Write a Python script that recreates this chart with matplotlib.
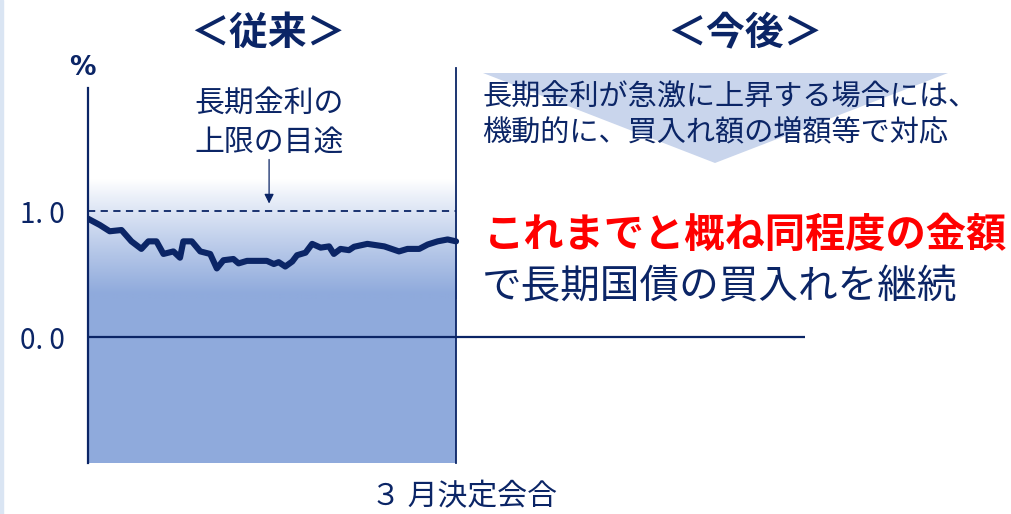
import numpy as np
import matplotlib.pyplot as plt
from matplotlib.colors import LinearSegmentedColormap
from matplotlib.patches import Polygon, Rectangle

plt.rcParams['font.family'] = ['Noto Sans CJK JP', 'DejaVu Sans']

NAVY = '#0B2566'
FILL = '#8FAADC'
RED = '#FF0000'

# 長期金利（％）— 3月決定会合までの推移（0〜100 の時間軸）
t_obs = [0, 3.2, 5.9, 9.1, 11.8, 14.5, 16.4, 18.6, 20.5, 23.2, 25, 25.9, 28.2,
         30.5, 33.2, 35, 36.8, 39.5, 40.9, 43.2, 48.6, 50.5, 51.8, 53.6, 55.5,
         56.8, 59.1, 60.9, 63.2, 65.5, 66.8, 68.6, 70.9, 72.3, 75.9, 80.5,
         84.5, 86.8, 90, 92.3, 95, 97.7, 100]
yield_pct = [0.94, 0.89, 0.84, 0.85, 0.76, 0.70, 0.76, 0.76, 0.66, 0.68, 0.63,
             0.76, 0.76, 0.68, 0.66, 0.545, 0.61, 0.62, 0.585, 0.605, 0.605,
             0.58, 0.595, 0.56, 0.60, 0.65, 0.67, 0.74, 0.71, 0.72, 0.66,
             0.70, 0.69, 0.717, 0.74, 0.72, 0.68, 0.70, 0.70, 0.735, 0.76,
             0.775, 0.76]
cap_level = 1.0
yticks = [0.0, 1.0]
ytick_labels = ['0. 0', '1. 0']
t_meeting = 100
t_end = 194.8

fig = plt.figure(figsize=(10.11, 5.14), dpi=100)
fig.patches.append(Rectangle((0, 0), 0.003, 1, transform=fig.transFigure,
                             color='#DAE5F3', zorder=0))
ax = fig.add_axes([88 / 1011, 51 / 514, 717 / 1011, 403 / 514])
ax.set_xlim(0, t_end)
ax.set_ylim(-1.0, 2.2)
for s in ax.spines.values():
    s.set_visible(False)
ax.set_xticks([])
ax.set_yticks(yticks)
ax.set_yticklabels(ytick_labels, fontsize=20, color=NAVY)
ax.tick_params(axis='y', length=0, pad=17)

# グラデーション付きの背景
cmap = LinearSegmentedColormap.from_list('g', ['#FFFFFF', FILL])
grad = np.linspace(0, 1, 200).reshape(-1, 1)
grad = np.clip(0.04 + grad, 0, 1) ** 0.9
ax.imshow(grad, aspect='auto', cmap=cmap, extent=[0, t_meeting, 0.3, 1.25],
          origin='upper', zorder=1)
ax.fill_between([0, t_meeting], -1.0, 0.3, color=FILL, lw=0, zorder=1)

# 軸・線
ax.plot([0, 0], [-1.0, 1.98], color=NAVY, lw=1.6, zorder=4, clip_on=False)
ax.plot([t_meeting, t_meeting], [-1.0, 2.14], color=NAVY, lw=1.3, zorder=4,
        clip_on=False)
ax.axhline(0, color=NAVY, lw=1.6, zorder=4)
ax.plot([0, t_meeting], [cap_level, cap_level], color=NAVY, lw=1.3,
        ls=(0, (4, 3)), zorder=4)
ax.plot(t_obs, yield_pct, color=NAVY, lw=4.4, zorder=5,
        solid_joinstyle='round', solid_capstyle='round')

ax.annotate('', xy=(49.2, 1.06), xytext=(49.2, 1.41),
            arrowprops=dict(arrowstyle='-|>', color=NAVY, lw=0.9,
                            mutation_scale=14, shrinkA=0, shrinkB=0))

ax.text(-1.5, 2.14, '%', fontsize=19, color=NAVY, ha='center', va='center',
        fontweight='bold', family=['DejaVu Sans'])
ax.text(49.2, 1.70, '長期金利の\n上限の目途', fontsize=21.5, color=NAVY,
        ha='center', va='center', linespacing=1.35)

fig.text(268 / 1011, 1 - 33 / 514, '＜従来＞', fontsize=28, fontweight='bold',
         color=NAVY, ha='center', va='center')
fig.text(745 / 1011, 1 - 33 / 514, '＜今後＞', fontsize=28, fontweight='bold',
         color=NAVY, ha='center', va='center')

tri = Polygon([[483 / 1011, 1 - 73 / 514], [948 / 1011, 1 - 73 / 514],
               [715 / 1011, 1 - 163 / 514]], closed=True,
              transform=fig.transFigure, color='#C9D5EC', lw=0, zorder=0)
fig.patches.append(tri)

fig.text(482 / 1011, 1 - 115 / 514,
         '長期金利が急激に上昇する場合には、\n機動的に、買入れ額の増額等で対応',
         fontsize=21, color=NAVY, ha='left', va='center', linespacing=1.25)
fig.text(484 / 1011, 1 - 235 / 514, 'これまでと概ね同程度の金額', fontsize=29,
         fontweight='bold', color=RED, ha='left', va='center')
fig.text(482 / 1011, 1 - 287 / 514, 'で長期国債の買入れを継続', fontsize=28.5,
         color=NAVY, ha='left', va='center')

fig.text(464 / 1011, 1 - 497 / 514, '３ 月決定会合', fontsize=21.5, color=NAVY,
         ha='center', va='center')

fig.savefig('out.png', dpi=100)
